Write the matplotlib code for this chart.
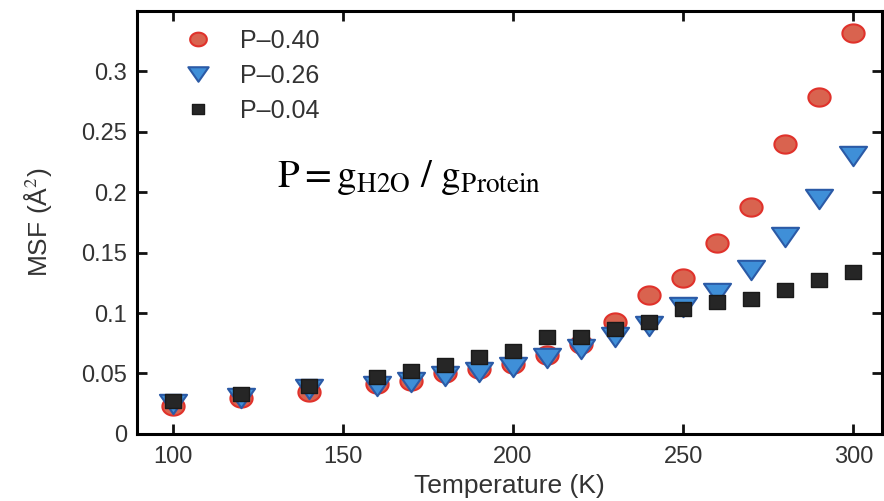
import matplotlib.pyplot as plt
import numpy as np
from matplotlib.path import Path

plt.rcParams["font.family"] = ["Liberation Sans", "DejaVu Sans"]
plt.rcParams["mathtext.fontset"] = "stix"

temps = [100, 120, 140, 160, 170, 180, 190, 200, 210, 220,
         230, 240, 250, 260, 270, 280, 290, 300]
msf_040 = [0.023, 0.030, 0.035, 0.041, 0.044, 0.050, 0.054, 0.058, 0.065, 0.074,
           0.093, 0.115, 0.129, 0.158, 0.188, 0.240, 0.279, 0.332]
msf_026 = [0.025, 0.030, 0.037, 0.040, 0.043, 0.048, 0.051, 0.055, 0.063, 0.070,
           0.080, 0.089, 0.105, 0.117, 0.136, 0.163, 0.194, 0.230]
msf_004 = [0.027, 0.033, 0.040, 0.047, 0.052, 0.057, 0.064, 0.069, 0.080, 0.080,
           0.087, 0.093, 0.103, 0.109, 0.112, 0.119, 0.127, 0.134]

# the source picture is stretched sideways, so the markers are a bit wide
t = np.linspace(0, 2 * np.pi, 60)
ellipse = Path(np.column_stack([1.22 * np.cos(t), np.sin(t)]), closed=True)
tri_down = Path([(-1.4, 1), (1.4, 1), (0, -1), (-1.4, 1)], closed=True)
wide_sq = Path([(-1.15, -1), (1.15, -1), (1.15, 1), (-1.15, 1), (-1.15, -1)], closed=True)

fig = plt.figure(figsize=(8.84, 5.01), dpi=100)
ax = fig.add_axes([0.155, 0.134, 0.843, 0.844])

ax.plot(temps, msf_040, ls='none', marker=ellipse, ms=16, mfc='#d9634f', mec='#e0322b',
        mew=1.5, label='P\u20130.40', zorder=3)
ax.plot(temps, msf_026, ls='none', marker=tri_down, ms=19.5, mfc='#3f8fd8', mec='#2b5aa6',
        mew=1.5, label='P\u20130.26', zorder=4)
ax.plot(temps, msf_004, ls='none', marker=wide_sq, ms=11.5, mfc='#262626', mec='#1a1a1a',
        mew=1, label='P\u20130.04', zorder=5)

ax.set_xlim(89.5, 308.5)
ax.set_ylim(0, 0.35)
ax.set_xticks([100, 150, 200, 250, 300])
ax.set_yticks([0, 0.05, 0.1, 0.15, 0.2, 0.25, 0.3])
ax.set_yticklabels(['0', '0.05', '0.1', '0.15', '0.2', '0.25', '0.3'])
ax.tick_params(direction='in', length=7, width=2, labelsize=17,
               top=True, right=True, colors='#111111', labelcolor='#333333')
ax.tick_params(axis='x', pad=9)
ax.tick_params(axis='y', pad=7)
for s in ax.spines.values():
    s.set_linewidth(2.2)

ax.set_xlabel('Temperature (K)', fontsize=19, color='#333333', labelpad=4)
ax.set_ylabel('MSF (\u00c5$^2$)', fontsize=19, color='#333333', labelpad=20)

ax.legend(loc='upper left', frameon=False, fontsize=18, markerscale=0.75,
          handlelength=1.2, handletextpad=1.1, labelspacing=0.45,
          borderaxespad=0.3, bbox_to_anchor=(0.038, 1.0), labelcolor='#333333')

ax.text(0.188, 0.585, r'$\mathrm{P = g_{H2O}\ /\ g_{Protein}}$',
        transform=ax.transAxes, fontsize=28, color='black')

fig.savefig('out.png', dpi=100)
